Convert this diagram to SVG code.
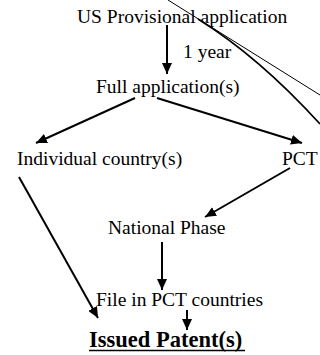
<svg xmlns="http://www.w3.org/2000/svg" width="320" height="355" viewBox="0 0 320 355">
<defs>
<marker id="ah" markerUnits="userSpaceOnUse" markerWidth="12" markerHeight="10" refX="11" refY="5" orient="auto">
<path d="M0,0 L11,5 L0,10 Z" fill="#000"/>
</marker>
<style>
text{font-family:"Liberation Serif","Times New Roman",serif;font-size:19.5px;fill:#000}
.b{font-weight:bold;font-size:22.5px}
.c{stroke:#000;stroke-width:2;fill:none;marker-end:url(#ah)}
</style>
</defs>
<rect width="320" height="355" fill="#fff"/>
<g id="decor" fill="none" stroke="#000">
<path d="M168,0 L320,95" stroke-width="1"/>
<path d="M198,19 Q259,57 320,124" stroke-width="1.6"/>
</g>
<g id="connectors">
<path class="c" d="M167,25 L167,74"/>
<path class="c" d="M135,98 L36,143"/>
<path class="c" d="M157,98 L302,143"/>
<path class="c" d="M290,168 L205,217"/>
<path class="c" d="M19,177 L98,318"/>
<path class="c" d="M162,242 L162,290"/>
<path class="c" d="M187,310 L187,330"/>
</g>
<g id="us-provisional"><text x="77" y="23">US Provisional application</text></g>
<g id="one-year"><text x="183" y="58">1 year</text></g>
<g id="full-application"><text x="96" y="93">Full application(s)</text></g>
<g id="individual-country"><text x="17" y="165">Individual country(s)</text></g>
<g id="pct"><text x="282" y="165">PCT</text></g>
<g id="national-phase"><text x="108" y="234">National Phase</text></g>
<g id="file-pct"><text x="96" y="306">File in PCT countries</text></g>
<g id="issued-patent"><text class="b" x="89" y="347">Issued Patent(s)</text><line x1="89" y1="350.5" x2="245" y2="350.5" stroke="#000" stroke-width="1.6"/></g>
</svg>
